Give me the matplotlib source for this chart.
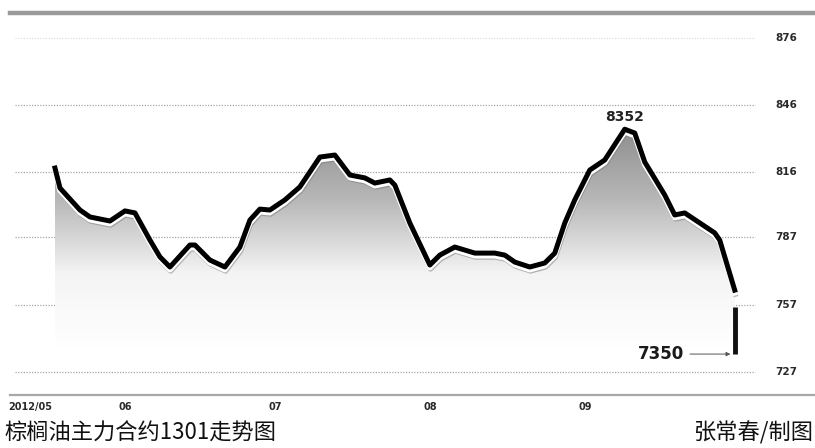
import matplotlib
matplotlib.use("Agg")
import matplotlib.pyplot as plt
import matplotlib.dates as mdates
import matplotlib.patheffects as pe
from matplotlib.colors import LinearSegmentedColormap
from matplotlib.lines import Line2D
import numpy as np
import pandas as pd

plt.rcParams['font.family'] = ['Noto Sans CJK SC', 'DejaVu Sans']

# --- dados ---
datas = ['2012-05-18', '2012-05-19', '2012-05-23', '2012-05-25', '2012-05-29',
         '2012-06-01', '2012-06-03', '2012-06-06', '2012-06-08', '2012-06-10',
         '2012-06-14', '2012-06-15', '2012-06-18', '2012-06-21', '2012-06-24',
         '2012-06-26', '2012-06-28', '2012-06-30', '2012-07-03', '2012-07-06',
         '2012-07-10', '2012-07-13', '2012-07-16', '2012-07-19', '2012-07-21',
         '2012-07-24', '2012-07-25', '2012-07-28', '2012-08-01', '2012-08-03',
         '2012-08-06', '2012-08-10', '2012-08-14', '2012-08-16', '2012-08-18',
         '2012-08-21', '2012-08-24', '2012-08-26', '2012-08-28', '2012-08-30',
         '2012-09-02', '2012-09-05', '2012-09-09', '2012-09-11', '2012-09-13',
         '2012-09-17', '2012-09-19', '2012-09-21', '2012-09-27', '2012-09-28',
         '2012-10-01']
precos = [8179, 8090, 7992, 7961, 7943,
          7988, 7979, 7858, 7783, 7738,
          7836, 7836, 7769, 7738, 7827,
          7947, 7996, 7992, 8037, 8095,
          8228, 8237, 8148, 8135, 8112,
          8126, 8103, 7934, 7747, 7791,
          7827, 7800, 7800, 7791, 7760,
          7738, 7756, 7800, 7934, 8037,
          8170, 8215, 8352, 8335, 8206,
          8059, 7970, 7979, 7890, 7858,
          7635]

data_maxima = '2012-09-09'
valor_maximo = 8352
data_final = '2012-10-01'
valor_final = 7350
topo_barra = 7560

valores_grade = [8760, 8460, 8160, 7870, 7570, 7270]
rotulos_grade = ['876', '846', '816', '787', '757', '727']

meses = ['2012-05-13', '2012-06-01', '2012-07-01', '2012-08-01', '2012-09-01']
rotulos_meses = ['2012/05', '06', '07', '08', '09']

titulo = '棕榈油主力合约1301走势图'
autor = '张常春/制图'

# --- figura ---
x = mdates.date2num(pd.to_datetime(datas))
y = np.array(precos)

fig = plt.figure(figsize=(8.15, 4.48), dpi=100)
ax = fig.add_axes([0.0184, 0.118, 0.926, 0.853])
x_min = mdates.date2num(pd.Timestamp('2012-05-10'))
x_max = mdates.date2num(pd.Timestamp('2012-10-08'))
for s in ax.spines.values():
    s.set_visible(False)
ax.set_yticks([])

# linhas de grade pontilhadas
for i, v in enumerate(valores_grade):
    ax.plot([x_min, mdates.date2num(pd.Timestamp('2012-10-05'))], [v, v],
            color='#e0e0e0' if i == 0 else '#a6a6a6',
            linestyle=(0, (1, 1.2)), linewidth=0.9, zorder=0)
    ax.text(1.008, v, rotulos_grade[i], transform=ax.get_yaxis_transform(),
            ha='left', va='center', fontsize=7.5, fontweight='bold',
            color='#2a2a2a', family='DejaVu Sans')

# área com gradiente
cmap = LinearSegmentedColormap.from_list('cinza', ['#ffffff', '#f4f4f4', '#b8b8b8', '#8e8e8e'])
grad = np.linspace(0, 1, 256).reshape(-1, 1)
im = ax.imshow(grad, extent=[x[0], x[-1], 7380, 8360], origin='lower',
               aspect='auto', cmap=cmap, zorder=1)
area = ax.fill_between(x, y, 7300, color='none', linewidth=0)
im.set_clip_path(area.get_paths()[0], transform=ax.transData)
ax.set_xlim(x_min, x_max)
ax.set_ylim(7167, 8870)

# linha principal
ax.plot(x, y, color='black', linewidth=3.6, zorder=3, solid_joinstyle='round',
        path_effects=[pe.SimpleLineShadow(offset=(0.5, -3), shadow_color='#777777', alpha=0.5),
                      pe.Stroke(linewidth=3.8, foreground='white', offset=(0, -2)),
                      pe.Normal()])

# barra final e rótulos
xf = mdates.date2num(pd.Timestamp(data_final))
ax.plot([xf, xf], [topo_barra, valor_final], color='#111111', linewidth=3.5,
        solid_capstyle='butt', zorder=3)
xm = mdates.date2num(pd.Timestamp(data_maxima))
ax.annotate(str(valor_maximo), (xm, valor_maximo), xytext=(0, 4),
            textcoords='offset points', ha='center', va='bottom',
            fontsize=10, fontweight='bold', color='#222222', family='DejaVu Sans')
ax.annotate('', xy=(xf - 0.3, valor_final), xytext=(xf - 9.5, valor_final),
            arrowprops=dict(arrowstyle='-|>', color='#555555', lw=0.7,
                            mutation_scale=6), zorder=3)
ax.text(xf - 10.2, valor_final, str(valor_final), ha='right', va='center',
        fontsize=12, fontweight='bold', color='#1a1a1a', family='DejaVu Sans')

# eixo x
xt = mdates.date2num(pd.to_datetime(meses))
ax.set_xticks(xt)
ax.set_xticklabels(rotulos_meses, fontsize=7, fontweight='bold', color='#2a2a2a',
                   family='DejaVu Sans')
ax.tick_params(axis='x', length=0, pad=5)

# linhas horizontais da moldura
fig.add_artist(Line2D([0.012, 1.0], [0.971, 0.971], color='#9a9a9a', linewidth=3.2,
                      transform=fig.transFigure))
fig.add_artist(Line2D([0.012, 1.0], [0.118, 0.118], color='#a8a8a8', linewidth=1.6,
                      transform=fig.transFigure))

# título e autor
fig.text(0.006, 0.033, titulo, fontsize=16, color='#111111', ha='left', va='center')
fig.text(0.998, 0.033, autor, fontsize=16, color='#111111', ha='right', va='center')

fig.savefig('out.png', dpi=100, facecolor='white')
